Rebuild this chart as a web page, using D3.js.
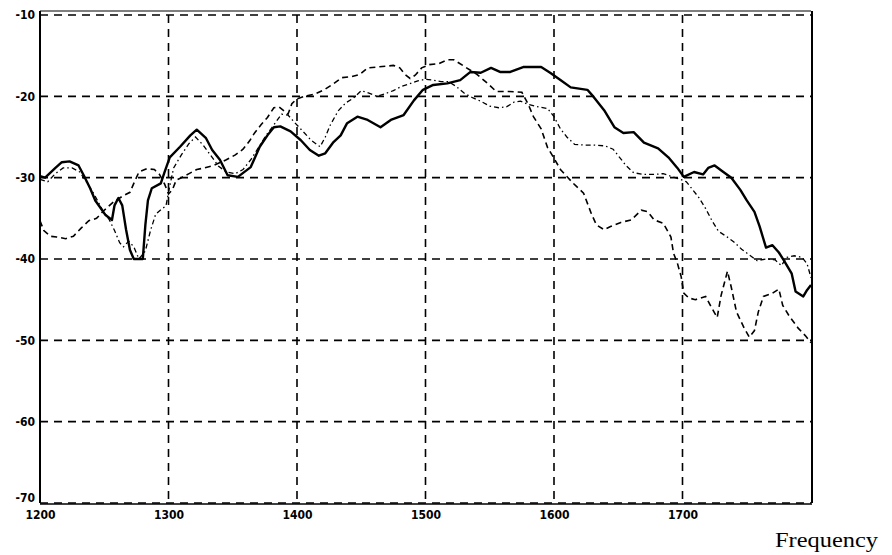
<!DOCTYPE html>
<html>
<head>
<meta charset="utf-8">
<script src="https://cdn.jsdelivr.net/npm/d3@7/dist/d3.min.js"></script>
<style>
  html, body { margin: 0; padding: 0; background: #fff; }
  svg { display: block; }
</style>
</head>
<body>
<script>
// ---- data ----
const xTicks = [1200, 1300, 1400, 1500, 1600, 1700];
const xGrid = [1300, 1400, 1500, 1600, 1700];
const yTicks = [-10, -20, -30, -40, -50, -60, -70];
const xLabel = "Frequency";

// solid, thick series
const solidFreq = [1200,1204,1212,1217,1223,1230,1234,1239,1243,1247,1251,1256,1258,1261,1264,1267,1270,1273,1280,1282,
  1284,1287,1294,1297,1301,1309,1317,1322,1329,1334,1340,1346,1354,1364,1371,1377,1382,1387,1395,1403,
  1410,1417,1422,1428,1434,1439,1447,1455,1465,1473,1483,1491,1498,1506,1517,1527,1535,1543,1551,1558,
  1566,1576,1590,1597,1605,1613,1626,1631,1639,1647,1654,1662,1670,1681,1689,1696,1701,1709,1716,1720,
  1725,1731,1738,1745,1750,1756,1760,1765,1770,1775,1779,1785,1788,1794,1797,1800];
const solidDb = [-29.8,-30.0,-28.8,-28.1,-28.0,-28.5,-29.7,-31.3,-32.8,-33.7,-34.6,-35.2,-33.4,-32.5,-33.4,-36.4,-38.9,-40.0,-40.0,-35.8,
  -32.8,-31.3,-30.7,-29.3,-27.5,-26.2,-24.8,-24.1,-25.1,-26.6,-27.8,-29.7,-29.9,-28.7,-26.2,-24.8,-23.8,-23.7,-24.3,-25.4,
  -26.6,-27.3,-27.0,-25.7,-24.8,-23.3,-22.5,-22.9,-23.8,-22.9,-22.3,-20.5,-19.2,-18.6,-18.4,-18.0,-17.0,-17.1,-16.5,-17.0,
  -17.0,-16.4,-16.4,-17.1,-18.0,-18.9,-19.2,-20.1,-21.7,-23.8,-24.5,-24.4,-25.7,-26.4,-27.5,-28.8,-29.9,-29.3,-29.6,-28.8,
  -28.5,-29.2,-30.0,-31.5,-32.8,-34.2,-36.0,-38.6,-38.3,-39.2,-40.2,-41.8,-44.0,-44.6,-43.8,-43.2];

// dashed series (highest in the middle, drops first after 1580)
const dashFreq = [1200,1203,1208,1213,1220,1226,1232,1238,1244,1250,1257,1264,1270,1273,1277,1283,1289,1293,1297,1300,
  1303,1306,1310,1316,1322,1328,1335,1345,1352,1358,1363,1367,1372,1377,1382,1386,1390,1393,1396,1400,
  1406,1414,1421,1428,1435,1442,1449,1455,1462,1469,1475,1480,1484,1488,1492,1497,1503,1510,1517,1522,
  1530,1540,1549,1555,1565,1575,1580,1584,1590,1595,1600,1605,1615,1623,1629,1633,1639,1644,1652,1660,
  1668,1673,1678,1685,1691,1693,1696,1699,1701,1705,1710,1714,1718,1722,1727,1730,1735,1738,1742,1748,
  1752,1756,1759,1763,1770,1775,1778,1783,1790,1796,1800];
const dashDb = [-35.3,-36.5,-37.2,-37.3,-37.5,-37.2,-36.2,-35.3,-35.0,-34.0,-33.0,-32.3,-31.8,-30.7,-29.3,-28.9,-29.0,-29.6,-30.8,-32.0,
  -31.5,-30.3,-30.0,-29.5,-29.0,-28.8,-28.5,-27.8,-27.2,-26.5,-25.5,-24.5,-23.5,-22.6,-21.4,-21.3,-21.8,-22.2,-20.9,-20.3,
  -20.0,-19.7,-19.2,-18.5,-17.7,-17.6,-17.3,-16.5,-16.4,-16.3,-16.2,-16.5,-17.3,-17.8,-17.4,-16.5,-16.1,-16.0,-15.5,-15.5,
  -16.3,-17.3,-18.5,-19.4,-19.4,-19.5,-21.0,-22.5,-24.0,-26.3,-27.6,-29.0,-30.7,-31.9,-34.4,-35.8,-36.4,-36.0,-35.5,-35.2,
  -34.0,-34.2,-35.2,-35.6,-37.3,-39.3,-40.5,-42.2,-44.2,-44.8,-45.0,-44.8,-44.6,-45.8,-47.2,-44.5,-41.5,-43.5,-46.5,-48.5,
  -49.6,-48.8,-46.5,-44.6,-44.2,-43.7,-45.7,-47.0,-48.5,-49.5,-50.3];

// dash-dot series (close to the solid one on the left, ends near -42)
const dotFreq = [1200,1206,1212,1218,1225,1231,1236,1242,1248,1254,1258,1262,1265,1269,1273,1277,1282,1286,1290,1295,
  1298,1301,1304,1310,1316,1321,1327,1333,1339,1345,1352,1358,1364,1370,1376,1382,1388,1393,1398,1404,
  1411,1418,1422,1426,1432,1438,1444,1450,1456,1462,1468,1475,1481,1487,1494,1500,1506,1512,1518,1524,
  1530,1537,1543,1550,1557,1563,1569,1574,1580,1588,1595,1600,1605,1610,1616,1624,1632,1640,1646,1651,
  1656,1662,1670,1678,1685,1692,1698,1703,1708,1713,1718,1723,1728,1734,1740,1746,1752,1758,1765,1772,
  1777,1781,1787,1793,1797,1800];
const dotDb = [-30.2,-30.5,-29.5,-28.8,-28.8,-29.3,-30.5,-32.0,-33.8,-35.2,-36.5,-38.0,-38.5,-37.8,-38.5,-40.0,-39.0,-36.5,-34.5,-33.8,
  -33.5,-31.0,-28.8,-27.2,-25.8,-25.0,-26.0,-27.3,-28.6,-29.3,-29.5,-29.0,-27.8,-26.3,-24.8,-23.5,-22.2,-22.3,-23.2,-24.2,
  -25.4,-26.2,-25.0,-23.5,-21.8,-20.8,-20.2,-19.3,-19.6,-20.0,-19.7,-19.3,-18.8,-18.5,-18.1,-17.9,-18.0,-18.2,-18.2,-18.8,
  -19.6,-20.2,-20.6,-21.2,-21.4,-21.3,-20.7,-20.6,-21.0,-21.3,-21.5,-22.5,-24.0,-25.0,-25.9,-26.0,-26.0,-26.1,-26.5,-27.5,
  -28.5,-29.4,-29.6,-29.6,-29.5,-29.9,-30.2,-30.5,-31.5,-32.5,-33.8,-35.3,-36.6,-37.2,-37.9,-38.8,-39.5,-40.2,-40.0,-40.1,
  -40.8,-39.8,-39.6,-39.8,-40.6,-42.3];

// ---- drawing ----
const W = 892, H = 555;
const plotL = 40, plotR = 811, plotT = 15, plotB = 503;

const svg = d3.select("body").append("svg").attr("width", W).attr("height", H);
svg.append("rect").attr("width", W).attr("height", H).attr("fill", "#fff");

const x = d3.scaleLinear().domain([1200, 1800]).range([plotL, plotR]);
const y = d3.scaleLinear().domain([-70, -10]).range([plotB, plotT]);

// grid lines (dashed)
const grid = svg.append("g").attr("stroke", "#000").attr("stroke-width", 1.6)
  .attr("stroke-dasharray", "8,6").attr("fill", "none");
grid.selectAll("line.h").data(yTicks).join("line").attr("class", "h")
  .attr("x1", plotL).attr("x2", plotR).attr("y1", d => y(d)).attr("y2", d => y(d));
grid.selectAll("line.v").data(xGrid).join("line").attr("class", "v")
  .attr("x1", d => x(d)).attr("x2", d => x(d)).attr("y1", plotT).attr("y2", plotB);

// frame
const frame = svg.append("g").attr("stroke", "#000").attr("fill", "none");
frame.append("line").attr("x1", plotL).attr("x2", plotR).attr("y1", 11).attr("y2", 11).attr("stroke-width", 1.2);
frame.append("line").attr("x1", plotL).attr("x2", plotL).attr("y1", 11).attr("y2", plotB).attr("stroke-width", 2);
frame.append("line").attr("x1", plotR + 1).attr("x2", plotR + 1).attr("y1", 11).attr("y2", plotB).attr("stroke-width", 2);
frame.append("line").attr("x1", plotL).attr("x2", plotR + 1).attr("y1", plotB + 1).attr("y2", plotB + 1).attr("stroke-width", 1.4);

// axes (labels only, via d3 axes)
const yAxis = d3.axisLeft(y).tickValues(yTicks).tickSize(0).tickPadding(4).tickFormat(d => String(d));
const gy = svg.append("g").attr("transform", `translate(${plotL - 1},0)`).call(yAxis);
gy.select(".domain").remove();
gy.selectAll("text").attr("font-family", "'DejaVu Sans Condensed', 'DejaVu Sans', sans-serif")
  .attr("font-weight", "bold").attr("font-size", 12).attr("fill", "#000");
// lowest label sits a little above the axis line, as in the reference
gy.selectAll(".tick").filter(d => d === -70).select("text").attr("dy", "-0.1em");

const xAxis = d3.axisBottom(x).tickValues(xTicks).tickSize(0).tickPadding(7).tickFormat(d => String(d));
const gx = svg.append("g").attr("transform", `translate(0,${plotB})`).call(xAxis);
gx.select(".domain").remove();
gx.selectAll("text").attr("font-family", "'DejaVu Sans Condensed', 'DejaVu Sans', sans-serif")
  .attr("font-weight", "bold").attr("font-size", 12).attr("fill", "#000");

// series
const mk = (fs, vs) => fs.map((f, i) => [f, vs[i]]);
const line = d3.line().x(d => x(d[0])).y(d => y(d[1])).curve(d3.curveLinear);

svg.append("path").datum(mk(dotFreq, dotDb)).attr("d", line)
  .attr("fill", "none").attr("stroke", "#000").attr("stroke-width", 1.3)
  .attr("stroke-dasharray", "5,3,1.5,3");
svg.append("path").datum(mk(dashFreq, dashDb)).attr("d", line)
  .attr("fill", "none").attr("stroke", "#000").attr("stroke-width", 1.6)
  .attr("stroke-dasharray", "6,4");
svg.append("path").datum(mk(solidFreq, solidDb)).attr("d", line)
  .attr("fill", "none").attr("stroke", "#000").attr("stroke-width", 2.4)
  .attr("stroke-linejoin", "round");

// axis title
svg.append("text").attr("x", 775).attr("y", 547)
  .attr("font-family", "'Liberation Serif', 'Times New Roman', serif")
  .attr("font-size", 21).attr("textLength", 103).attr("lengthAdjust", "spacingAndGlyphs")
  .attr("fill", "#000").text(xLabel);
</script>
</body>
</html>
